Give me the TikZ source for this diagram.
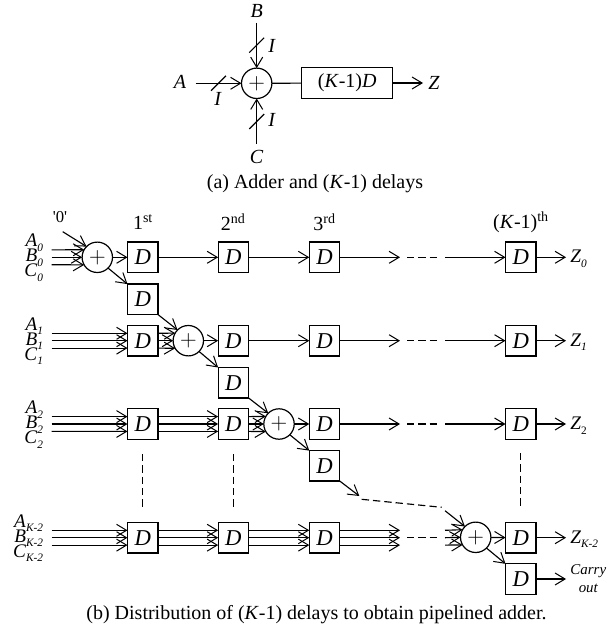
\documentclass[tikz,border=0pt]{standalone}
\usepackage{xcolor}
\usepackage{fontspec}
\setmainfont{Liberation Serif}
\usepackage{tikz}
\usetikzlibrary{arrows.meta}
\newcommand{\sublabel}[2]{\textit{#1}\raisebox{-3.4pt}{\fontsize{8.5}{8.5}\selectfont\itshape #2}}
\tikzset{
    line/.style={line width=0.85pt, -{Straight Barb[length=7.5pt,width=9pt,line width=0.75pt]}},
    plain/.style={line width=0.85pt},
    dashline/.style={line width=0.85pt, dash pattern=on 5.5pt off 3pt},
    delay/.style={draw, line width=0.9pt, rectangle, minimum width=22.8pt, minimum height=22.8pt, inner sep=0pt, outer sep=0pt, font=\fontsize{17}{17}\selectfont\itshape},
    adder/.style={draw, line width=0.9pt, circle, minimum size=22.8pt, inner sep=0pt, outer sep=0pt, font=\fontsize{18}{18}\selectfont},
    txt/.style={inner sep=0pt, font=\fontsize{15}{17}\selectfont},
    inlabel/.style={inner sep=0pt, anchor=base east, font=\fontsize{14.4}{16}\selectfont},
    outlabel/.style={inner sep=0pt, anchor=base west, font=\fontsize{14.4}{16}\selectfont},
}
\begin{document}
\begin{tikzpicture}[x=0.75pt, y=-0.75pt]
    \useasboundingbox (0,0) rectangle (613,630);

    % Adder and delays
    \node[adder] (add) at (256.7,83.3) {$+$};
    \node[draw, line width=0.9pt, rectangle, minimum width=68.2pt, minimum height=22.8pt, inner sep=0pt, outer sep=0pt, txt] (delays) at (347.2,83) {(\textit{K}-1)\textit{D}};
    \node[txt] (a) at (180,82) {\textit{A}};
    \node[txt] (b) at (256.7,11) {\textit{B}};
    \node[txt] (c) at (256.7,157) {\textit{C}};
    \node[txt, anchor=west] (z) at (428,83) {\textit{Z}};
    \coordinate (astart) at (195.7,83.3);
    \coordinate (bstart) at (256.7,23);
    \coordinate (cstart) at (256.7,144);
    \coordinate (zend) at (423,83);
    \draw[line] (astart) -- (add);
    \draw[line] (bstart) -- (add);
    \draw[line] (cstart) -- (add);
    \draw[plain] (add) -- (delays);
    \draw[line] (delays) -- (zend);

    % Bus width marks
    \coordinate (ta) at (218.5,83.3);
    \coordinate (tb) at (256.7,45.2);
    \coordinate (tc) at (256.7,121.5);
    \draw[plain] ([shift={(-5.6pt,-5.6pt)}]ta) -- ([shift={(5.6pt,5.6pt)}]ta);
    \draw[plain] ([shift={(-5.6pt,-5.6pt)}]tb) -- ([shift={(5.6pt,5.6pt)}]tb);
    \draw[plain] ([shift={(-5.6pt,-5.6pt)}]tc) -- ([shift={(5.6pt,5.6pt)}]tc);
    \node[txt] (ia) at (218,99) {\textit{I}};
    \node[txt] (ib) at (272,46) {\textit{I}};
    \node[txt] (ic) at (272,120) {\textit{I}};
    \node[txt] (capa) at (315,184) {(a) Adder and (\textit{K}-1) delays};

    % Column titles
    \node[txt] (t1) at (143,222) {1\textsuperscript{st}};
    \node[txt] (t2) at (233.3,222) {2\textsuperscript{nd}};
    \node[txt] (t3) at (324.5,222) {3\textsuperscript{rd}};
    \node[txt] (tl) at (521,222) {(\textit{K}-1)\textsuperscript{th}};
    \node[inner sep=0pt, font=\fontsize{12.5}{12.5}\selectfont] (zero) at (60,217) {\textquotesingle 0\textquotesingle};

    % Row 0
    \node[adder] (add0) at (97.3,257.3) {$+$};
    \node[delay] (d01) at (142.7,257.3) {D};
    \node[delay] (d02) at (233.3,257.3) {D};
    \node[delay] (d03) at (324.5,257.3) {D};
    \node[delay] (d0l) at (520.7,257.3) {D};
    \node[delay] (c0) at (142.7,299.3) {D};
    \node[inlabel] (a0) at (43.3,246.8) {\sublabel{A}{0}};
    \node[inlabel] (b0) at (43.3,261.8) {\sublabel{B}{0}};
    \node[inlabel] (c0l) at (43.3,276.8) {\sublabel{C}{0}};
    \node[outlabel] (z0) at (570,263) {\sublabel{Z}{0}};
    \coordinate (zs) at (62.7,231.7);
    \coordinate (ia0) at (51.7,249.9);
    \coordinate (ib0) at (51.7,257.3);
    \coordinate (ic0) at (51.7,264.7);
    \coordinate (e0) at (400,257.3);
    \coordinate (f0) at (407,257.3);
    \coordinate (g0) at (440,257.3);
    \coordinate (s0) at (445,257.3);
    \coordinate (z0e) at (566,257.3);
    \draw[line] (zs) -- (add0.135);
    \draw[line] (ia0) -- (add0.150);
    \draw[line] (ib0) -- (add0.180);
    \draw[line] (ic0) -- (add0.210);
    \draw[line] (add0) -- (d01);
    \draw[line] (add0.-45) -- (c0.north west);
    \draw[line] (d01) -- (d02);
    \draw[line] (d02) -- (d03);
    \draw[line] (d03) -- (e0);
    \draw[dashline] (f0) -- (g0);
    \draw[line] (s0) -- (d0l);
    \draw[line] (d0l) -- (z0e);

    % Row 1
    \node[delay] (d11) at (142.7,340.7) {D};
    \node[adder] (add1) at (188.3,340.7) {$+$};
    \node[delay] (d12) at (233.3,340.7) {D};
    \node[delay] (d13) at (324.5,340.7) {D};
    \node[delay] (d1l) at (520.7,340.7) {D};
    \node[delay] (c1) at (233.3,382.7) {D};
    \node[inlabel] (a1) at (43.3,330.2) {\sublabel{A}{1}};
    \node[inlabel] (b1) at (43.3,345.2) {\sublabel{B}{1}};
    \node[inlabel] (c1l) at (43.3,360.2) {\sublabel{C}{1}};
    \node[outlabel] (z1) at (570,346.2) {\sublabel{Z}{1}};
    \coordinate (ia1) at (51.7,333.3);
    \coordinate (ib1) at (51.7,340.7);
    \coordinate (ic1) at (51.7,348.1);
    \coordinate (e1) at (400,340.7);
    \coordinate (f1) at (407,340.7);
    \coordinate (g1) at (440,340.7);
    \coordinate (s1) at (445,340.7);
    \coordinate (z1e) at (566,340.7);
    \draw[line] (ia1) -- ([yshift=5.55pt]d11.west);
    \draw[line] (ib1) -- (d11);
    \draw[line] (ic1) -- ([yshift=-5.55pt]d11.west);
    \draw[line] ([yshift=5.55pt]d11.east) -- (add1.150);
    \draw[line] (d11) -- (add1);
    \draw[line] ([yshift=-5.55pt]d11.east) -- (add1.210);
    \draw[line] (c0.south east) -- (add1.135);
    \draw[line] (add1) -- (d12);
    \draw[line] (add1.-45) -- (c1.north west);
    \draw[line] (d12) -- (d13);
    \draw[line] (d13) -- (e1);
    \draw[dashline] (f1) -- (g1);
    \draw[line] (s1) -- (d1l);
    \draw[line] (d1l) -- (z1e);

    % Row 2
    \node[delay] (d21) at (142.7,424) {D};
    \node[delay] (d22) at (233.3,424) {D};
    \node[adder] (add2) at (279,424) {$+$};
    \node[delay] (d23) at (324.5,424) {D};
    \node[delay] (d2l) at (520.7,424) {D};
    \node[delay] (c2) at (324.5,465.8) {D};
    \node[inlabel] (a2) at (43.3,413.5) {\sublabel{A}{2}};
    \node[inlabel] (b2) at (43.3,428.5) {\sublabel{B}{2}};
    \node[inlabel] (c2l) at (43.3,443.5) {\sublabel{C}{2}};
    \node[outlabel] (z2) at (570,429.5) {\textit{Z}\raisebox{-3.4pt}{\fontsize{8.5}{8.5}\selectfont 2}};
    \coordinate (ia2) at (51.7,416.6);
    \coordinate (ib2) at (51.7,424);
    \coordinate (ic2) at (51.7,431.4);
    \coordinate (e2) at (400,424);
    \coordinate (f2) at (407,424);
    \coordinate (g2) at (440,424);
    \coordinate (s2) at (445,424);
    \coordinate (z2e) at (566,424);
    \draw[line] (ia2) -- ([yshift=5.55pt]d21.west);
    \draw[line] (ib2) -- (d21);
    \draw[line] (ic2) -- ([yshift=-5.55pt]d21.west);
    \draw[line] ([yshift=5.55pt]d21.east) -- ([yshift=5.55pt]d22.west);
    \draw[line] (d21) -- (d22);
    \draw[line] ([yshift=-5.55pt]d21.east) -- ([yshift=-5.55pt]d22.west);
    \draw[line] ([yshift=5.55pt]d22.east) -- (add2.150);
    \draw[line] (d22) -- (add2);
    \draw[line] ([yshift=-5.55pt]d22.east) -- (add2.210);
    \draw[line] (c1.south east) -- (add2.135);
    \draw[line] (add2) -- (d23);
    \draw[line] (add2.-45) -- (c2.north west);
    \draw[line] (d23) -- (e2);
    \draw[dashline] (f2) -- (g2);
    \draw[line] (s2) -- (d2l);
    \draw[line] (d2l) -- (z2e);

    % Vertical dots
    \coordinate (v1a) at (142.7,454);
    \coordinate (v1b) at (142.7,507);
    \coordinate (v2a) at (233.3,454);
    \coordinate (v2b) at (233.3,507);
    \coordinate (v3a) at (520.7,453);
    \coordinate (v3b) at (520.7,507);
    \draw[dashline] (v1a) -- (v1b);
    \draw[dashline] (v2a) -- (v2b);
    \draw[dashline] (v3a) -- (v3b);

    % Row K-2
    \node[delay] (dk1) at (142.7,537.7) {D};
    \node[delay] (dk2) at (233.3,537.7) {D};
    \node[delay] (dk3) at (324.5,537.7) {D};
    \node[adder] (addk) at (475.7,537.3) {$+$};
    \node[delay] (dkl) at (520.7,537.7) {D};
    \node[delay] (c3) at (520.7,579) {D};
    \node[inlabel] (ak) at (43.3,527.2) {\sublabel{A}{K-2}};
    \node[inlabel] (bk) at (43.3,542.2) {\sublabel{B}{K-2}};
    \node[inlabel] (ck) at (43.3,557.2) {\sublabel{C}{K-2}};
    \node[outlabel] (zk) at (570,543.2) {\sublabel{Z}{K-2}};
    \node[inner sep=0pt, font=\fontsize{11.2}{11.2}\selectfont\itshape] (carry) at (588.3,570.7) {Carry};
    \node[inner sep=0pt, font=\fontsize{11.2}{11.2}\selectfont\itshape] (out) at (588.3,588) {out};
    \coordinate (iak) at (51.7,530.3);
    \coordinate (ibk) at (51.7,537.7);
    \coordinate (ick) at (51.7,545.1);
    \coordinate (eak) at (400,530.3);
    \coordinate (ebk) at (400,537.7);
    \coordinate (eck) at (400,545.1);
    \coordinate (fk) at (407,537.7);
    \coordinate (gk) at (440,537.7);
    \coordinate (sak) at (445,530.3);
    \coordinate (sbk) at (445,537.7);
    \coordinate (sck) at (445,545.1);
    \coordinate (zke) at (566,537.7);
    \coordinate (ce) at (566,579);
    \draw[line] (iak) -- ([yshift=5.55pt]dk1.west);
    \draw[line] (ibk) -- (dk1);
    \draw[line] (ick) -- ([yshift=-5.55pt]dk1.west);
    \draw[line] ([yshift=5.55pt]dk1.east) -- ([yshift=5.55pt]dk2.west);
    \draw[line] (dk1) -- (dk2);
    \draw[line] ([yshift=-5.55pt]dk1.east) -- ([yshift=-5.55pt]dk2.west);
    \draw[line] ([yshift=5.55pt]dk2.east) -- ([yshift=5.55pt]dk3.west);
    \draw[line] (dk2) -- (dk3);
    \draw[line] ([yshift=-5.55pt]dk2.east) -- ([yshift=-5.55pt]dk3.west);
    \draw[line] ([yshift=5.55pt]dk3.east) -- (eak);
    \draw[line] (dk3) -- (ebk);
    \draw[line] ([yshift=-5.55pt]dk3.east) -- (eck);
    \draw[dashline] (fk) -- (gk);
    \draw[line] (sak) -- (addk.150);
    \draw[line] (sbk) -- (addk.180);
    \draw[line] (sck) -- (addk.210);
    \draw[line] (addk) -- (dkl);
    \draw[line] (addk.-45) -- (c3.north west);
    \draw[line] (dkl) -- (zke);
    \draw[line] (c3) -- (ce);

    % Carry across the gap
    \coordinate (m1) at (359.3,496);
    \coordinate (m2) at (361.7,499.3);
    \coordinate (m3) at (441.7,507.3);
    \coordinate (m4) at (445,510.7);
    \draw[line] (c2.south east) -- (m1);
    \draw[dashline] (m2) -- (m3);
    \draw[line] (m4) -- (addk.135);

    \node[txt] (capb) at (316.5,615) {(b) Distribution of (\textit{K}-1) delays to obtain pipelined adder.};
\end{tikzpicture}
\end{document}
